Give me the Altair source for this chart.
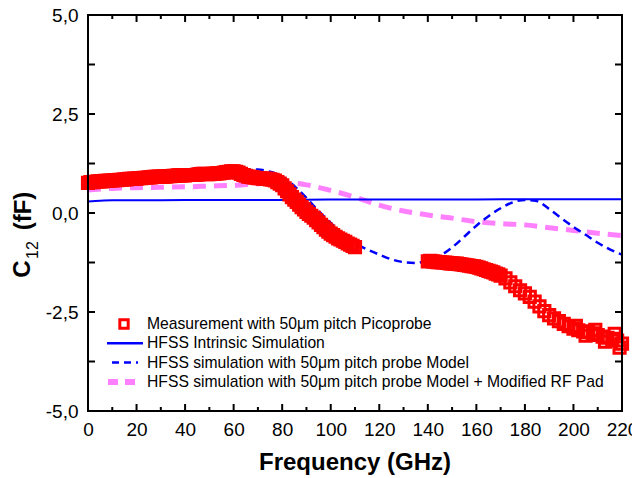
import altair as alt
import pandas as pd

# ---------------- data ----------------
meas_f1 = list(range(0, 111))
meas_c1 = [0.76, 0.78, 0.78, 0.79, 0.80, 0.80, 0.80, 0.81, 0.81, 0.82,
           0.82, 0.83, 0.83, 0.84, 0.84, 0.85, 0.85, 0.86, 0.86, 0.87,
           0.87, 0.88, 0.88, 0.89, 0.89, 0.90, 0.90, 0.91, 0.91, 0.92,
           0.92, 0.92, 0.92, 0.93, 0.93, 0.94, 0.94, 0.95, 0.95, 0.95,
           0.95, 0.96, 0.96, 0.96, 0.96, 0.97, 0.98, 0.99, 0.99, 0.98,
           0.98, 0.99, 0.99, 1.00, 1.00, 1.01, 1.02, 1.03, 1.04, 1.05,
           1.05, 1.04, 1.02, 0.99, 0.96, 0.94, 0.92, 0.91, 0.90, 0.89,
           0.88, 0.88, 0.87, 0.87, 0.86, 0.85, 0.84, 0.82, 0.78, 0.74,
           0.70, 0.62, 0.55, 0.47, 0.40, 0.34, 0.28, 0.21, 0.15, 0.09,
           0.03, -0.02, -0.07, -0.12, -0.18, -0.24, -0.30, -0.36, -0.42, -0.47,
           -0.52, -0.56, -0.60, -0.64, -0.67, -0.70, -0.73, -0.77, -0.80, -0.83,
           -0.86]
meas_f2 = list(range(140, 171)) + list(range(172, 222, 2)) + [201, 205, 209, 213, 217, 219]
meas_c2 = [-1.22, -1.21, -1.22, -1.23, -1.24, -1.24, -1.25, -1.25, -1.26, -1.27,
           -1.27, -1.28, -1.28, -1.29, -1.30, -1.31, -1.32, -1.33, -1.34, -1.35,
           -1.36, -1.38, -1.40, -1.42, -1.44, -1.46, -1.48, -1.50, -1.53, -1.55,
           -1.58,
           -1.65, -1.75, -1.85, -1.95, -2.03, -2.12, -2.24, -2.36, -2.48, -2.58,
           -2.66, -2.73, -2.80, -2.86, -2.92, -2.96, -2.99, -3.01, -3.04, -3.08,
           -3.12, -3.15, -3.18, -3.22, -3.30,
           -2.85, -3.10, -2.95, -3.25, -3.05, -3.40]

intr_f = [0, 5, 10, 20, 40, 60, 80, 100, 120, 140, 160, 180, 200, 220]
intr_c = [0.29, 0.31, 0.32, 0.32, 0.33, 0.33, 0.33, 0.34, 0.34, 0.34, 0.34, 0.35, 0.35, 0.35]

probe_f = [0, 10, 20, 30, 40, 50, 60, 65, 70, 75, 80, 85, 90, 95, 100, 105, 110,
           115, 120, 125, 130, 135, 140, 145, 150, 155, 160, 165, 170, 175, 180,
           185, 190, 195, 200, 205, 210, 215, 220]
probe_c = [0.62, 0.70, 0.77, 0.85, 0.92, 1.00, 1.07, 1.10, 1.10, 1.04, 0.92, 0.68,
           0.38, 0.05, -0.25, -0.53, -0.76, -0.92, -1.05, -1.17, -1.24, -1.26,
           -1.20, -1.08, -0.87, -0.60, -0.32, -0.08, 0.12, 0.27, 0.33, 0.30, 0.10,
           -0.13, -0.35, -0.55, -0.75, -0.92, -1.05]

pad_f = [0, 10, 20, 30, 40, 50, 60, 70, 80, 90, 100, 110, 120, 130, 140, 150,
         160, 170, 180, 190, 200, 210, 220]
pad_c = [0.58, 0.62, 0.64, 0.65, 0.66, 0.68, 0.70, 0.74, 0.77, 0.71, 0.57, 0.40,
         0.20, 0.05, -0.05, -0.13, -0.22, -0.27, -0.30, -0.37, -0.44, -0.51, -0.57]

legend_labels = [
    "Measurement with 50\u03bcm pitch Picoprobe",
    "HFSS Intrinsic Simulation",
    "HFSS simulation with 50\u03bcm pitch probe Model",
    "HFSS simulation with 50\u03bcm pitch probe Model + Modified RF Pad",
]

x_labels = list(range(0, 221, 20))
x_minor = list(range(10, 220, 20))
y_labels = [-5.0, -2.5, 0.0, 2.5, 5.0]
y_ticks = [-5.0, -3.75, -2.5, -1.25, 0.0, 1.25, 2.5, 3.75, 5.0]

# ---------------- layout ----------------
W, H = 534, 396
RED, BLUE, PINK = "#ff0000", "#0000ff", "#ff80ff"
FONT = "Liberation Sans"

xs = alt.Scale(domain=[0, 220], nice=False, zero=False)
ys = alt.Scale(domain=[-5, 5], nice=False, zero=False)

meas = pd.DataFrame({"f": meas_f1 + meas_f2, "c": meas_c1 + meas_c2})
intr = pd.DataFrame({"f": intr_f, "c": intr_c})
probe = pd.DataFrame({"f": probe_f, "c": probe_c})
pad = pd.DataFrame({"f": pad_f, "c": pad_c})

X = alt.X("f:Q", scale=xs, axis=alt.Axis(
    values=x_labels, ticks=False, domain=False, grid=False, title=None,
    labelFontSize=19, labelPadding=9, labelFont=FONT, labelColor="#000",
    labelFlush=False, labelOverlap=False))
Y = alt.Y("c:Q", scale=ys, axis=alt.Axis(
    values=y_labels, ticks=False, domain=False, grid=False, title=None,
    labelFontSize=19, labelPadding=10, labelFont=FONT, labelColor="#000",
    labelFlush=False, labelOverlap=False,
    labelExpr="replace(replace(format(datum.value, '.1f'), '.', ','), '\u2212', '-')"))

base_x = alt.X("f:Q", scale=xs)
base_y = alt.Y("c:Q", scale=ys)

pad_line = alt.Chart(pad).mark_line(color=PINK, strokeWidth=5, strokeDash=[13, 8],
                                    interpolate="monotone").encode(x=X, y=Y)
probe_line = alt.Chart(probe).mark_line(color=BLUE, strokeWidth=2.5, strokeDash=[8, 5],
                                        interpolate="monotone").encode(x=base_x, y=base_y)
intr_line = alt.Chart(intr).mark_line(color=BLUE, strokeWidth=2,
                                      interpolate="monotone").encode(x=base_x, y=base_y)
meas_pts = alt.Chart(meas).mark_point(shape="square", filled=False, color=RED,
                                      size=125, strokeWidth=3, opacity=1).encode(x=base_x, y=base_y)

# ---------------- frame and inward ticks ----------------
one = pd.DataFrame({"a": [0]})
layers = [
    alt.Chart(one).mark_rule(color="#000", strokeWidth=2).encode(
        x=alt.value(0), y=alt.value(0), y2=alt.value(H)),
    alt.Chart(one).mark_rule(color="#000", strokeWidth=2).encode(
        x=alt.value(W), y=alt.value(0), y2=alt.value(H)),
    alt.Chart(one).mark_rule(color="#000", strokeWidth=2).encode(
        y=alt.value(0), x=alt.value(-1), x2=alt.value(W + 1)),
    alt.Chart(one).mark_rule(color="#000", strokeWidth=2).encode(
        y=alt.value(H), x=alt.value(-1), x2=alt.value(W + 1)),
]
for vals, ln in ((x_labels, 7), (x_minor, 4)):
    d = pd.DataFrame({"f": vals})
    layers.append(alt.Chart(d).mark_rule(color="#000", strokeWidth=2).encode(
        x=base_x, y=alt.value(H), y2=alt.value(H - ln)))
    layers.append(alt.Chart(d).mark_rule(color="#000", strokeWidth=2).encode(
        x=base_x, y=alt.value(0), y2=alt.value(ln)))
dy = pd.DataFrame({"c": y_ticks})
layers.append(alt.Chart(dy).mark_rule(color="#000", strokeWidth=2).encode(
    y=base_y, x=alt.value(0), x2=alt.value(7)))
layers.append(alt.Chart(dy).mark_rule(color="#000", strokeWidth=2).encode(
    y=base_y, x=alt.value(W), x2=alt.value(W - 7)))

# ---------------- legend ----------------
LY0, LDY = 309, 19.3
TX = 59
leg = []
leg.append(alt.Chart(one).mark_point(
    shape="square", filled=False, color=RED, size=70, strokeWidth=3, opacity=1).encode(
    x=alt.value(36), y=alt.value(LY0)))
leg.append(alt.Chart(one).mark_rule(color=BLUE, strokeWidth=2.5).encode(
    x=alt.value(19), x2=alt.value(55), y=alt.value(LY0 + LDY)))
leg.append(alt.Chart(one).mark_rule(color=BLUE, strokeWidth=2.5,
                                    strokeDash=[7, 5]).encode(
    x=alt.value(24), x2=alt.value(50), y=alt.value(LY0 + 2 * LDY)))
leg.append(alt.Chart(one).mark_rule(color=PINK, strokeWidth=6,
                                    strokeDash=[10, 7]).encode(
    x=alt.value(20), x2=alt.value(47), y=alt.value(LY0 + 3 * LDY)))
for i, lab in enumerate(legend_labels):
    leg.append(alt.Chart(one).mark_text(
        align="left", baseline="middle", fontSize=15.7, font=FONT, color="#000").encode(
        x=alt.value(TX), y=alt.value(LY0 + i * LDY), text=alt.value(lab)))

# ---------------- axis titles ----------------
titles = [
    alt.Chart(one).mark_text(angle=270, align="center", baseline="middle", fontSize=24,
                             fontWeight="bold", font=FONT, color="#000").encode(
        x=alt.value(-65), y=alt.value(254), text=alt.value("C")),
    alt.Chart(one).mark_text(angle=270, align="center", baseline="middle", fontSize=16,
                             font=FONT, color="#000").encode(
        x=alt.value(-55), y=alt.value(235), text=alt.value("12")),
    alt.Chart(one).mark_text(angle=270, align="center", baseline="middle", fontSize=24,
                             fontWeight="bold", font=FONT, color="#000").encode(
        x=alt.value(-64), y=alt.value(196), text=alt.value("(fF)")),
    alt.Chart(one).mark_text(align="center", baseline="middle", fontSize=24,
                             fontWeight="bold", font=FONT, color="#000").encode(
        x=alt.value(W / 2), y=alt.value(H + 52), text=alt.value("Frequency (GHz)")),
]

chart = alt.layer(pad_line, probe_line, intr_line, meas_pts, *layers, *leg, *titles).properties(
    width=W, height=H,
    autosize=alt.AutoSizeParams(type="none"),
    padding={"left": 80, "top": 7, "right": 10, "bottom": 70},
).configure_view(stroke=None)

chart.save("out.html", embed_options={"renderer": "svg", "actions": False})
